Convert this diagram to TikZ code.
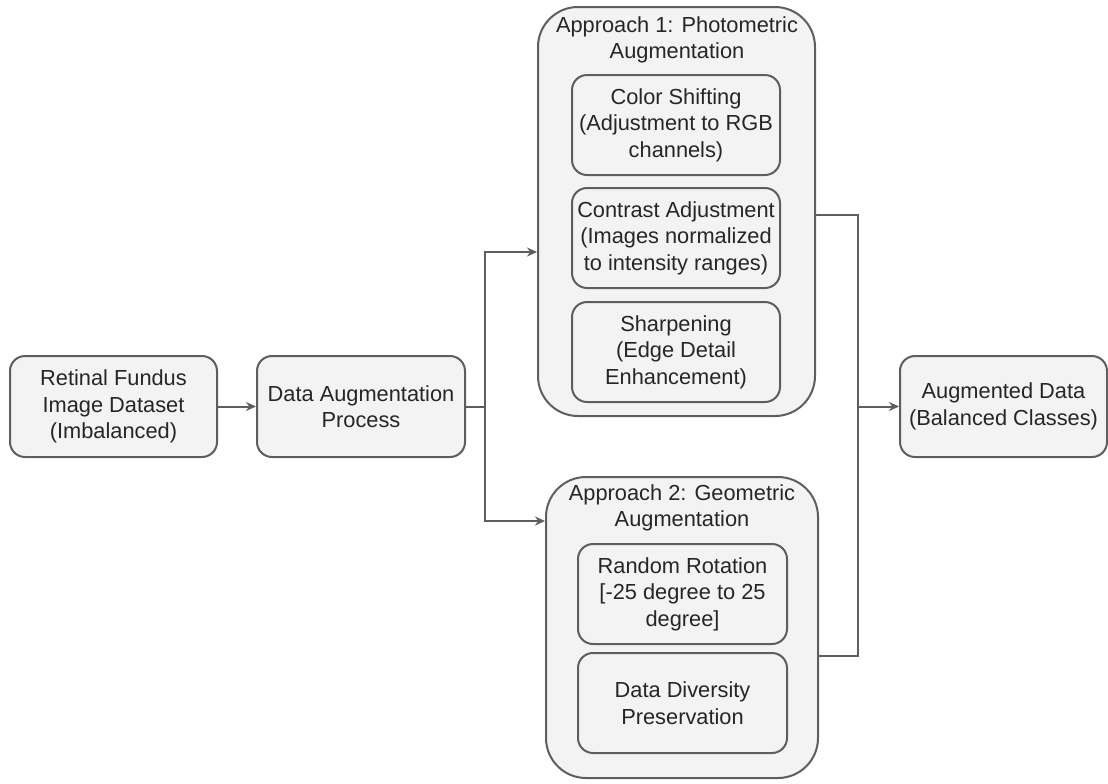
\documentclass[tikz,border=0pt]{standalone}
\usepackage{fontspec}
\setmainfont{Liberation Sans}
\usetikzlibrary{arrows.meta}
\definecolor{boxfill}{HTML}{F3F3F3}
\definecolor{boxline}{HTML}{5E5E5E}
\definecolor{txt}{HTML}{262626}
\begin{document}
\begin{tikzpicture}[x=0.5pt,y=-0.5pt,
  every node/.style={font=\fontsize{10.9}{13.2}\selectfont, text=txt, align=center},
  box/.style={draw=boxline, fill=boxfill, line width=1pt, rounded corners=7.5pt,
              minimum width=103.5pt, minimum height=50.5pt, inner sep=0pt},
  group/.style={draw=boxline, fill=boxfill, line width=1pt, rounded corners=20pt, inner sep=0pt},
  inner/.style={box, minimum width=104pt, minimum height=50pt},
  link/.style={draw=boxline, line width=1pt},
  arr/.style={link, -{Stealth[length=5pt,width=4.5pt]}}]
\useasboundingbox (0,0) rectangle (1108,783);

% input and process
\node[box] (data) at (113.5,406.5) {Retinal Fundus\\Image Dataset\\(Imbalanced)};
\node[box, minimum width=104pt] (proc) at (361,406.5) {Data Augmentation\\Process};

% approach 1: photometric
\node[group, minimum width=138.5pt, minimum height=204.5pt] (a1) at (676.5,211.5) {};
\node (a1t) at (677,40) {Approach 1: Photometric\\Augmentation};
\node[inner] (color) at (676,125) {Color Shifting\\(Adjustment to RGB\\channels)};
\node[inner] (contrast) at (676,238) {Contrast Adjustment\\(Images normalized\\to intensity ranges)};
\node[inner] (sharp) at (676,352) {Sharpening\\(Edge Detail\\Enhancement)};

% approach 2: geometric
\node[group, minimum width=136pt, minimum height=150.5pt] (a2) at (682,627.5) {};
\node (a2t) at (682,508) {Approach 2: Geometric\\Augmentation};
\node[inner, minimum width=104.5pt] (rot) at (682.5,594) {Random Rotation\\{[}-25 degree to 25\\degree{]}};
\node[inner, minimum width=104.5pt] (div) at (682.5,703) {Data Diversity\\Preservation};

% output
\node[box] (out) at (1003.5,406.5) {Augmented Data\\(Balanced Classes)};

% connector rows and columns
\coordinate (in1) at (0,252);
\coordinate (in2) at (0,521);
\coordinate (out1) at (0,215);
\coordinate (out2) at (0,656);
\coordinate (splitx) at (485,0);
\coordinate (joinx) at (858,0);

\draw[arr] (data) -- (proc);
\draw[link] (proc.east) -- (splitx |- proc.east);
\draw[arr] (splitx |- proc.east) |- (a1.west |- in1);
\draw[arr] (splitx |- proc.east) |- (a2.west |- in2);
\draw[link] (a1.east |- out1) -| (joinx |- out.west);
\draw[link] (a2.east |- out2) -| (joinx |- out.west);
\draw[arr] (joinx |- out.west) -- (out.west);
\end{tikzpicture}
\end{document}
